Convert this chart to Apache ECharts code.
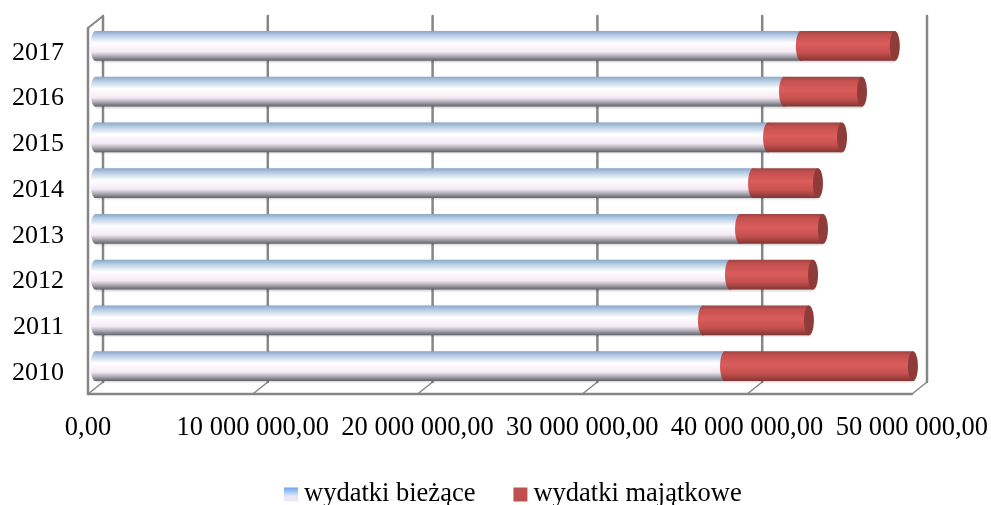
<!DOCTYPE html>
<html>
<head>
<meta charset="utf-8">
<style>
  html, body { margin: 0; padding: 0; background: #fff; }
  #chart { width: 991px; height: 505px; }
</style>
<script src="https://cdn.jsdelivr.net/npm/echarts@6/dist/echarts.min.js"></script>
</head>
<body>
<div id="chart"></div>
<script>
const years = ["2010", "2011", "2012", "2013", "2014", "2015", "2016", "2017"];
const wydatkiBiezace = [38200000, 36860000, 38500000, 39110000, 39900000, 40810000, 41780000, 42800000];
const wydatkiMajatkowe = [11400000, 6430000, 5040000, 5030000, 3940000, 4490000, 4730000, 5700000];
const xTicks = [0, 10000000, 20000000, 30000000, 40000000, 50000000];
const xTickLabels = ["0,00", "10 000 000,00", "20 000 000,00", "30 000 000,00", "40 000 000,00", "50 000 000,00"];

const FONT = '"Liberation Serif", serif';
const WALL = "#868686";
// przesunięcie ścian 3D względem płaszczyzny słupków
const DX = 7.5;
const DY_BACK = 7;
const DY_FRONT = 5;
const CAP_RX = 5;
const BAR_RATIO = 0.655;

const vGrad = (stops) => new echarts.graphic.LinearGradient(0, 0, 0, 1, stops);

const blueFill = () => vGrad([
  { offset: 0, color: "#88a6c8" },
  { offset: 0.14, color: "#b4cbe2" },
  { offset: 0.4, color: "#ffffff" },
  { offset: 0.7, color: "#f6e9f5" },
  { offset: 0.84, color: "#b0aeb6" },
  { offset: 1, color: "#5f6067" },
]);
const redFill = () => vGrad([
  { offset: 0, color: "#9c4543" },
  { offset: 0.14, color: "#c4504e" },
  { offset: 0.45, color: "#da5d5b" },
  { offset: 0.75, color: "#c5504e" },
  { offset: 1, color: "#803533" },
]);

// cylinder: korpus, lewa półelipsa, opcjonalnie ciemna pokrywa na końcu
const renderCylinder = (fill, withCap) => (params, api) => {
  const start = api.coord([api.value(1), api.value(0)]);
  const end = api.coord([api.value(2), api.value(0)]);
  const h = api.size([0, 1])[1] * BAR_RATIO;
  const children = [
    {
      type: "rect",
      shape: { x: start[0], y: start[1] - h / 2, width: end[0] - start[0], height: h },
      style: { fill: fill(), shadowBlur: 2, shadowOffsetY: 1, shadowColor: "rgba(0,0,0,0.2)" },
    },
    { type: "ellipse", shape: { cx: start[0], cy: start[1], rx: CAP_RX, ry: h / 2 }, style: { fill: fill() } },
  ];
  if (withCap) {
    children.push({ type: "ellipse", shape: { cx: end[0], cy: end[1], rx: CAP_RX, ry: h / 2 }, style: { fill: "#8e3b3a" } });
  }
  return { type: "group", children };
};

// ściana tylna i podłoga wykresu
const renderWall = (params, api) => {
  const x = api.coord([api.value(0), 0])[0];
  const top = params.coordSys.y;
  const bottom = top + params.coordSys.height;
  const line = (x1, y1, x2, y2, width) => ({
    type: "line",
    shape: { x1, y1, x2, y2 },
    style: { stroke: WALL, lineWidth: width, lineCap: "round" },
  });
  const children = [
    line(x + DX, top - DY_BACK, x + DX, bottom - DY_BACK, 2.5),
    line(x - DX, bottom + DY_FRONT, x + DX, bottom - DY_BACK, 1.5),
  ];
  if (params.dataIndex === 0) {
    const right = api.coord([xTicks[xTicks.length - 1], 0])[0];
    children.push(line(x - DX, top + DY_FRONT, x - DX, bottom + DY_FRONT, 2.5));
    children.push(line(x - DX, top + DY_FRONT, x + DX, top - DY_BACK, 2));
    children.push(line(x - DX, bottom + DY_FRONT, right - DX, bottom + DY_FRONT, 2.5));
  }
  return { type: "group", children };
};

const chart = echarts.init(document.getElementById("chart"), null, { renderer: "canvas" });

const hiddenParts = {
  axisLine: { show: false },
  axisTick: { show: false },
  splitLine: { show: false },
};

chart.setOption({
  animation: false,
  backgroundColor: "#ffffff",
  // grid 0: płaszczyzna słupków, grid 1: przednia płaszczyzna z opisami osi
  grid: [
    { left: 95.5, width: 824, top: 23, height: 366 },
    { left: 88, width: 824, top: 30, height: 366 },
  ],
  xAxis: [
    { type: "value", gridIndex: 0, min: 0, max: 50000000, interval: 10000000, ...hiddenParts, axisLabel: { show: false } },
    {
      type: "value",
      gridIndex: 1,
      min: 0,
      max: 50000000,
      interval: 10000000,
      ...hiddenParts,
      axisLabel: {
        color: "#000",
        fontFamily: FONT,
        fontSize: 26.5,
        margin: 19,
        hideOverlap: false,
        formatter: (value) => xTickLabels[xTicks.indexOf(value)],
      },
    },
  ],
  yAxis: [
    { type: "category", gridIndex: 0, data: years, ...hiddenParts, axisLabel: { show: false } },
    {
      type: "category",
      gridIndex: 1,
      data: years,
      ...hiddenParts,
      axisLabel: { color: "#000", fontFamily: FONT, fontSize: 26, margin: 24 },
    },
  ],
  legend: {
    left: 279,
    top: 476,
    itemWidth: 14,
    itemHeight: 14,
    itemGap: 38,
    icon: "rect",
    textStyle: { color: "#000", fontFamily: FONT, fontSize: 26.5, padding: [0, 0, 0, 1] },
    data: [
      { name: "wydatki bieżące", itemStyle: { color: vGrad([{ offset: 0, color: "#69a5f0" }, { offset: 0.6, color: "#dfe8f6" }, { offset: 1, color: "#f3e6f4" }]) } },
      { name: "wydatki majątkowe", itemStyle: { color: "#c0504d" } },
    ],
  },
  series: [
    {
      name: "ściana",
      type: "custom",
      xAxisIndex: 0,
      yAxisIndex: 0,
      silent: true,
      clip: false,
      renderItem: renderWall,
      encode: { x: 0 },
      data: xTicks.map((t) => [t]),
    },
    {
      name: "wydatki bieżące",
      type: "custom",
      xAxisIndex: 0,
      yAxisIndex: 0,
      clip: false,
      renderItem: renderCylinder(blueFill, false),
      encode: { x: [1, 2], y: 0 },
      data: years.map((y, i) => [i, 0, wydatkiBiezace[i]]),
    },
    {
      name: "wydatki majątkowe",
      type: "custom",
      xAxisIndex: 0,
      yAxisIndex: 0,
      clip: false,
      renderItem: renderCylinder(redFill, true),
      encode: { x: [1, 2], y: 0 },
      data: years.map((y, i) => [i, wydatkiBiezace[i], wydatkiBiezace[i] + wydatkiMajatkowe[i]]),
    },
  ],
});
</script>
</body>
</html>
